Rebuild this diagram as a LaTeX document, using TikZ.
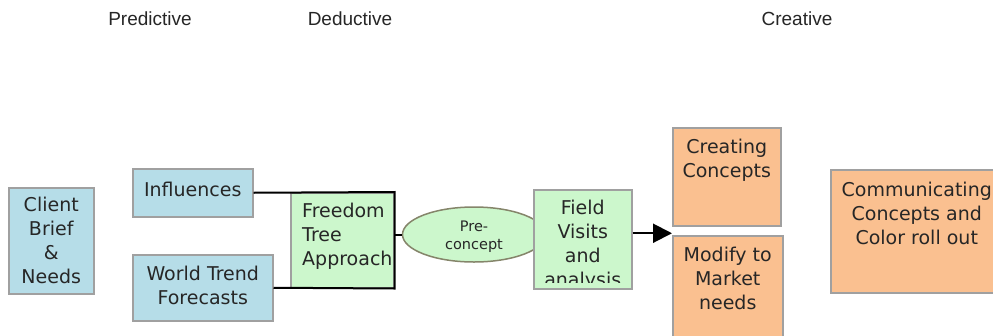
\documentclass[tikz,border=0pt]{standalone}
\usepackage{fontspec}
\setmainfont{DejaVu Sans}
\newfontfamily\headfont{Liberation Sans}
\usetikzlibrary{arrows.meta,shapes.geometric}
\definecolor{bluefill}{HTML}{B6DDE8}
\definecolor{greenfill}{HTML}{CCF7CC}
\definecolor{orangefill}{HTML}{FAC090}
\definecolor{boxline}{HTML}{A0A0A0}
\definecolor{ellline}{HTML}{85856A}
\definecolor{txt}{HTML}{262626}
\tikzset{
  x=1pt, y=-1pt,
  box/.style={draw=boxline, line width=1.5pt, rectangle, inner sep=0pt, anchor=north west},
  bluebox/.style={box, fill=bluefill},
  greenbox/.style={box, fill=greenfill},
  orangebox/.style={box, fill=orangefill},
  boxtext/.style={inner sep=0pt, text=txt, font=\fontsize{19}{24}\selectfont, align=center},
  head/.style={inner sep=0pt, text=txt, font=\headfont\fontsize{19}{23}\selectfont},
  conn/.style={line width=2pt, black},
}
\begin{document}
\begin{tikzpicture}
\useasboundingbox (0,0) rectangle (993,335);
\clip (0,0) rectangle (993,335);
\fill[white] (0,0) rectangle (993,335);

% headers
\node[head] (hpred) at (150,19) {Predictive};
\node[head] (hded) at (350,19) {Deductive};
\node[head] (hcre) at (797,19) {Creative};

% blue boxes
\node[bluebox, minimum width=85pt, minimum height=106pt] (client) at (8,187) {};
\node[boxtext] (clienttxt) at (client.center) {Client\\Brief\\\&\\Needs};
\node[bluebox, minimum width=120pt, minimum height=48pt] (infl) at (132,168) {};
\node[boxtext] (infltxt) at ([yshift=3pt]infl.center) {Influences};
\node[bluebox, minimum width=140pt, minimum height=66pt] (world) at (132,254) {};
\node[boxtext] (worldtxt) at ([yshift=2pt]world.center) {World Trend\\Forecasts};

% freedom tree
\node[greenbox, minimum width=103pt, minimum height=95pt] (free) at (290,192) {};
\node[boxtext, align=left, anchor=north west] (freetxt) at ([xshift=12pt,yshift=-11pt]free.north west) {Freedom\\Tree\\Approach};
\draw[conn] (infl.east) -- (free.north east) -- (free.south east) -- (world.east);

% ellipse
\node[ellipse, draw=ellline, line width=1.5pt, fill=greenfill, minimum width=143pt, minimum height=55pt, inner sep=0pt] (pre) at (474,234.5) {};
\node[inner sep=0pt, text=txt, font=\fontsize{14.5}{18}\selectfont, align=center] (pretxt) at ([yshift=-2pt]pre.center) {Pre-\\concept};
\draw[conn] (free.east |- pre.west) -- (pre.west);

% field visits
\node[greenbox, minimum width=98pt, minimum height=99pt] (field) at (533,189) {};
\begin{scope}
\clip (535,191) rectangle (629,282.5);
\node[boxtext, anchor=north] (fieldtxt) at ([yshift=-11pt]field.north) {Field\\Visits\\and\\analysis};
\end{scope}

% orange boxes
\node[orangebox, minimum width=108pt, minimum height=98pt] (create) at (672,127) {};
\node[boxtext, anchor=north] (createtxt) at ([yshift=-12pt]create.north) {Creating\\Concepts};
\node[orangebox, minimum width=110pt, minimum height=110pt] (modify) at (672,235) {};
\node[boxtext, anchor=north] (modifytxt) at ([yshift=-12pt]modify.north) {Modify to\\Market\\needs};
\node[orangebox, minimum width=172pt, minimum height=123pt] (comm) at (830,169) {};
\node[boxtext, anchor=north] (commtxt) at ([yshift=-13pt]comm.north) {Communicating\\Concepts and\\Color roll out};

% arrow
\draw[conn, -{Triangle[length=19pt,width=19pt]}] ([yshift=6pt]field.east) -- ([yshift=6pt]field.east -| modify.west);
\end{tikzpicture}
\end{document}
